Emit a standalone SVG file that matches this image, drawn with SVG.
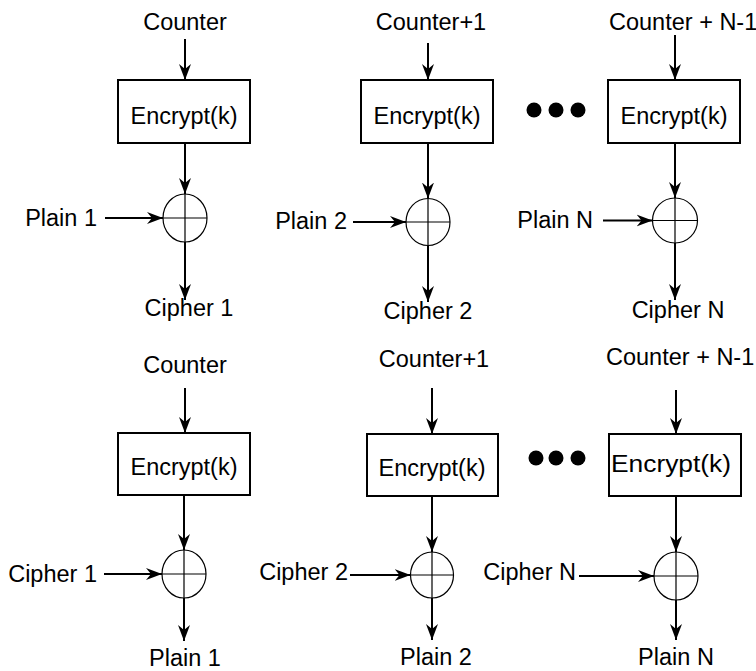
<svg xmlns="http://www.w3.org/2000/svg" width="756" height="671" viewBox="0 0 756 671">
<style>
text{font-family:"Liberation Sans",Arial,sans-serif;font-size:23.5px;fill:#000}
.c{text-anchor:middle}
.e{text-anchor:end}
.box{fill:#fff;stroke:#000;stroke-width:2}
.xor{fill:none;stroke:#000;stroke-width:1.2}
.ln{stroke:#000;stroke-width:2;fill:none;marker-end:url(#ah)}
.dot{fill:#000}
</style>
<defs>
<marker id="ah" markerUnits="userSpaceOnUse" markerWidth="18" markerHeight="14" viewBox="-16 -7 18 14" refX="0" refY="0" orient="auto">
<path d="M0,0 L-16,-6 L-11,0 L-16,6 Z" fill="#000"/>
</marker>
</defs>
<rect width="756" height="671" fill="#fff"/>
<!-- top row -->
<g id="t-counter1"><text class="c" x="185" y="30">Counter</text></g>
<g id="t-enc1"><rect class="box" x="118" y="80" width="132" height="63"/><text class="c" x="184" y="124">Encrypt(k)</text></g>
<g id="t-xor1"><ellipse class="xor" cx="185" cy="218" rx="22" ry="24"/><path class="xor" d="M163,218H207M185,194V242"/></g>
<g id="t-plain1"><text class="e" x="97" y="226">Plain 1</text></g>
<g id="t-cipher1"><text class="c" x="189" y="316">Cipher 1</text></g>

<g id="t-counter2"><text class="c" x="431" y="30">Counter+1</text></g>
<g id="t-enc2"><rect class="box" x="361" y="80" width="132" height="63"/><text class="c" x="427" y="124">Encrypt(k)</text></g>
<g id="t-xor2"><ellipse class="xor" cx="428" cy="222" rx="22" ry="23.5"/><path class="xor" d="M406,222H450M428,198.5V245.5"/></g>
<g id="t-plain2"><text class="e" x="347" y="229">Plain 2</text></g>
<g id="t-cipher2"><text class="c" x="428" y="319">Cipher 2</text></g>

<g id="t-dots"><circle class="dot" cx="534" cy="110" r="7.5"/><circle class="dot" cx="556" cy="110" r="7.5"/><circle class="dot" cx="578" cy="110" r="7.5"/></g>

<g id="t-counterN"><text x="609" y="30">Counter + N-1</text></g>
<g id="t-encN"><rect class="box" x="608" y="80" width="132" height="63"/><text class="c" x="674" y="124">Encrypt(k)</text></g>
<g id="t-xorN"><ellipse class="xor" cx="675" cy="220.5" rx="22.5" ry="22.5"/><path class="xor" d="M652.5,220.5H697.5M675,198V243"/></g>
<g id="t-plainN"><text class="e" x="593" y="228">Plain N</text></g>
<g id="t-cipherN"><text class="c" x="678" y="318">Cipher N</text></g>

<!-- bottom row -->
<g id="b-counter1"><text class="c" x="185" y="373">Counter</text></g>
<g id="b-enc1"><rect class="box" x="118" y="433" width="132" height="62"/><text class="c" x="184" y="475">Encrypt(k)</text></g>
<g id="b-xor1"><ellipse class="xor" cx="184" cy="574" rx="22" ry="24"/><path class="xor" d="M162,574H206M184,550V598"/></g>
<g id="b-cipher1"><text class="e" x="97" y="582">Cipher 1</text></g>
<g id="b-plain1"><text class="c" x="185" y="666">Plain 1</text></g>

<g id="b-counter2"><text class="c" x="434" y="367">Counter+1</text></g>
<g id="b-enc2"><rect class="box" x="367" y="434" width="131" height="62"/><text class="c" x="432" y="476">Encrypt(k)</text></g>
<g id="b-xor2"><ellipse class="xor" cx="432" cy="575" rx="21.5" ry="23"/><path class="xor" d="M410.5,575H453.5M432,552V598"/></g>
<g id="b-cipher2"><text class="e" x="348" y="580">Cipher 2</text></g>
<g id="b-plain2"><text class="c" x="436" y="665">Plain 2</text></g>

<g id="b-dots"><circle class="dot" cx="536" cy="458" r="7.5"/><circle class="dot" cx="556" cy="458" r="7.5"/><circle class="dot" cx="578" cy="458" r="7.5"/></g>

<g id="b-counterN"><text x="606" y="365">Counter + N-1</text></g>
<g id="b-encN"><rect class="box" x="609" y="434" width="132" height="62"/><text x="611" y="472" textLength="120" lengthAdjust="spacingAndGlyphs">Encrypt(k)</text></g>
<g id="b-xorN"><ellipse class="xor" cx="676" cy="576" rx="22" ry="24"/><path class="xor" d="M654,576H698M676,552V600"/></g>
<g id="b-cipherN"><text class="e" x="576" y="580">Cipher N</text></g>
<g id="b-plainN"><text class="c" x="676" y="665">Plain N</text></g>

<g id="connectors">
<path class="ln" d="M185,39V80"/>
<path class="ln" d="M185,143V194"/>
<path class="ln" d="M105,218H163"/>
<path class="ln" d="M185,242V300"/>

<path class="ln" d="M428,43V80"/>
<path class="ln" d="M428,143V198.5"/>
<path class="ln" d="M353,222H406"/>
<path class="ln" d="M428,245.5V302"/>

<path class="ln" d="M675,35V80"/>
<path class="ln" d="M675,143V198"/>
<path class="ln" d="M603,220.5H652.5"/>
<path class="ln" d="M675,243V300"/>

<path class="ln" d="M185,388V433"/>
<path class="ln" d="M184,495V550"/>
<path class="ln" d="M104,574H162"/>
<path class="ln" d="M184,598V641"/>

<path class="ln" d="M432,388V434"/>
<path class="ln" d="M432,496V552"/>
<path class="ln" d="M350,575H410.5"/>
<path class="ln" d="M432,598V640"/>

<path class="ln" d="M676,390V434"/>
<path class="ln" d="M676,496V552"/>
<path class="ln" d="M579,576H654"/>
<path class="ln" d="M676,600V640"/>
</g>
</svg>
